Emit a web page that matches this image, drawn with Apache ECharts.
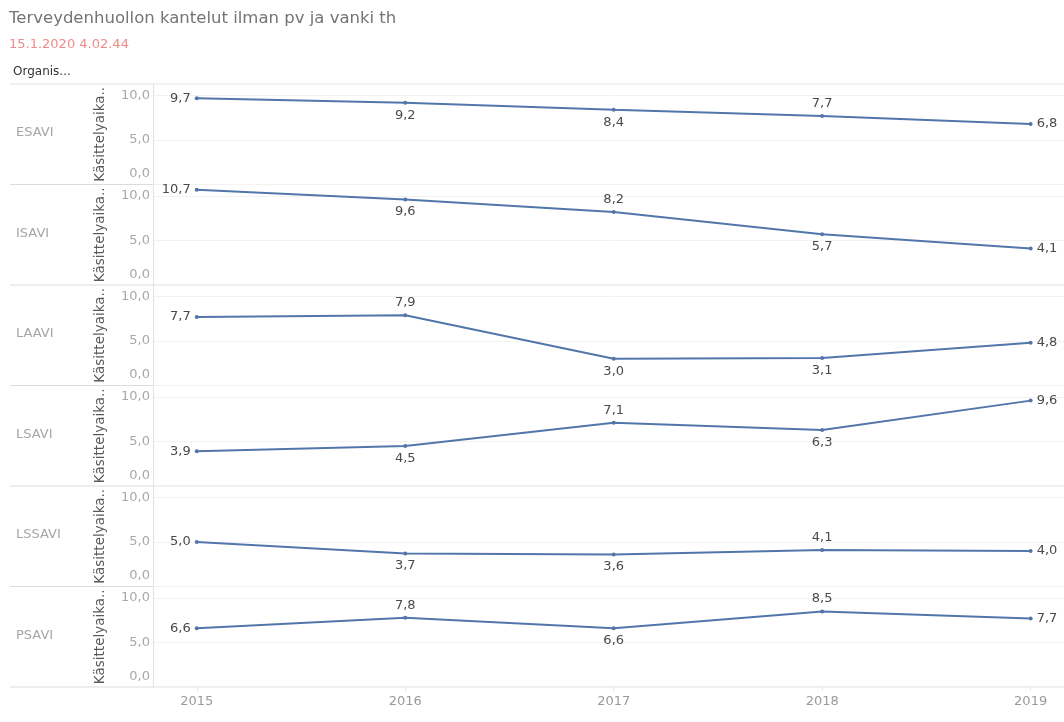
<!DOCTYPE html>
<html><head><meta charset="utf-8">
<script src="https://cdn.jsdelivr.net/npm/echarts@6/dist/echarts.min.js"></script>
<style>html,body{margin:0;padding:0;background:#fff}#c{width:1064px;height:722px}</style>
</head><body><div id="c"></div>
<script>
const years = [2015, 2016, 2017, 2018, 2019];
const orgs = ['ESAVI', 'ISAVI', 'LAAVI', 'LSAVI', 'LSSAVI', 'PSAVI'];
const esavi  = [9.7, 9.2, 8.4, 7.7, 6.8];
const isavi  = [10.7, 9.6, 8.2, 5.7, 4.1];
const laavi  = [7.7, 7.9, 3.0, 3.1, 4.8];
const lsavi  = [3.9, 4.5, 7.1, 6.3, 9.6];
const lssavi = [5.0, 3.7, 3.6, 4.1, 4.0];
const psavi  = [6.6, 7.8, 6.6, 8.5, 7.7];
const seriesValues = [esavi, isavi, laavi, lsavi, lssavi, psavi];
const yTicks = [0, 5, 10];
// label placement per panel (style only)
const labelPlacement = [
  ['left','bottom','bottom','top','right'],
  ['left','bottom','top','bottom','right'],
  ['left','top','bottom','bottom','right'],
  ['left','bottom','top','bottom','right'],
  ['left','bottom','bottom','top','right'],
  ['left','top','bottom','top','right']
];

const FONT = '"DejaVu Sans", sans-serif';
const top0 = 84, panelH = 100.5, left = 153;
const fmt = v => v.toFixed(1).replace('.', ',');

const grids = [], xAxes = [], yAxes = [], series = [], graphics = [];
orgs.forEach((org, i) => {
  const last = i === orgs.length - 1;
  grids.push({ left: left, right: 0, top: top0 + i * panelH, height: panelH });
  xAxes.push({
    type: 'value', gridIndex: i, min: 2014.79, max: 2019.16,
    axisLine: { show: false }, splitLine: { show: false },
    axisTick: { show: last, customValues: years, length: 4, lineStyle: { color: '#e4e4e4' } },
    axisLabel: { show: last, customValues: years, color: '#9a9a9a', fontSize: 13, fontFamily: FONT, margin: 8,
                 formatter: v => String(Math.round(v)) }
  });
  yAxes.push({
    type: 'value', gridIndex: i, min: 0, max: 11.3, interval: 5,
    name: 'Käsittelyaika..', nameLocation: 'middle', nameGap: 46, nameRotate: 90,
    nameTextStyle: { color: '#5a5a5a', fontSize: 13.5, fontFamily: FONT },
    axisLine: { show: true, lineStyle: { color: '#e2e2e2' } },
    axisTick: { show: false },
    axisLabel: { customValues: yTicks, color: '#a8a8a8', fontSize: 13, fontFamily: FONT, margin: 3,
                 formatter: v => v === 0 ? '{z|' + fmt(v) + '}' : fmt(v),
                 rich: { z: { fontSize: 13, fontFamily: FONT, color: '#a8a8a8', padding: [0, 0, 4, 0] } },
                 verticalAlignMinLabel: 'bottom' },
    splitLine: { show: true, lineStyle: { color: '#f2f2f2' } }
  });
  series.push({
    type: 'line', xAxisIndex: i, yAxisIndex: i,
    data: seriesValues[i].map((v, k) => ({
      value: [years[k], v],
      label: { position: labelPlacement[i][k] }
    })),
    symbol: 'circle', symbolSize: 4,
    itemStyle: { color: '#5276aa' },
    lineStyle: { color: '#5276aa', width: 2 },
    label: { show: true, formatter: p => fmt(p.value[1]), color: '#4a4a4a', fontSize: 13, fontFamily: FONT, distance: 4 },
    animation: false
  });
  graphics.push({
    type: 'text', left: 16, top: top0 + i * panelH + panelH / 2 - 8,
    style: { text: org, fill: '#a6a6a6', font: '13px ' + FONT }
  });
  graphics.push({
    type: 'line', shape: { x1: 10, y1: top0 + (i + 1) * panelH, x2: 1064, y2: top0 + (i + 1) * panelH },
    style: { stroke: '#dcdcdc', lineWidth: 1 }
  });
});
graphics.push({
  type: 'line', shape: { x1: 10, y1: top0, x2: 1064, y2: top0 },
  style: { stroke: '#e4e4e4', lineWidth: 1 }
});
graphics.push({ type: 'text', left: 9, top: 10,
  style: { text: 'Terveydenhuollon kantelut ilman pv ja vanki th', fill: '#747474', font: '16.5px ' + FONT } });
graphics.push({ type: 'text', left: 9, top: 38,
  style: { text: '15.1.2020 4.02.44', fill: '#f08a8a', font: '13px ' + FONT } });
graphics.push({ type: 'text', left: 13, top: 66,
  style: { text: 'Organis...', fill: '#333', font: '12px ' + FONT } });

const chart = echarts.init(document.getElementById('c'), null, { renderer: 'canvas' });
chart.setOption({
  backgroundColor: '#fff',
  animation: false,
  grid: grids, xAxis: xAxes, yAxis: yAxes, series: series, graphic: graphics
});
</script></body></html>
